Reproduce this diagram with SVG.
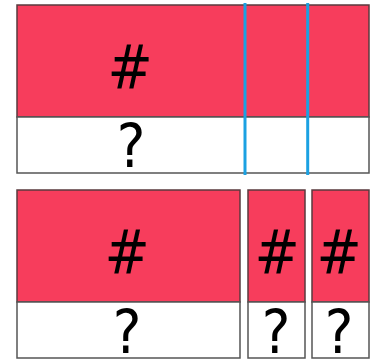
<svg xmlns="http://www.w3.org/2000/svg" width="377" height="360" viewBox="0 0 377 360">
<style>
.red{fill:#F73D5C;stroke:#5A3A3E;stroke-width:1.5}
.wht{fill:#FFFFFF;stroke:#555555;stroke-width:1.5}
.t{font-family:"DejaVu Sans Condensed","DejaVu Sans",sans-serif;font-stretch:condensed;font-size:60px;text-anchor:middle;fill:#000}
.blue{stroke:#1BA1E2;stroke-width:3;fill:none}
</style>
<g id="top">
<rect class="red" x="17" y="5" width="352" height="112"/>
<rect class="wht" x="17" y="117" width="352" height="56"/>
<text class="t" x="130" y="88">#</text>
<text class="t" x="131" y="167">?</text>
</g>
<g id="connectors">
<line class="blue" x1="245" y1="3" x2="245" y2="175"/>
<line class="blue" x1="307.7" y1="3" x2="307.7" y2="175"/>
</g>
<g id="b1">
<rect class="red" x="17" y="190" width="223" height="112"/>
<rect class="wht" x="17" y="302" width="223" height="56"/>
<text class="t" x="127" y="273">#</text>
<text class="t" x="127" y="353">?</text>
</g>
<g id="b2">
<rect class="red" x="248" y="190" width="57" height="112"/>
<rect class="wht" x="248" y="302" width="57" height="56"/>
<text class="t" x="277" y="273">#</text>
<text class="t" x="276" y="353">?</text>
</g>
<g id="b3">
<rect class="red" x="312" y="190" width="57" height="112"/>
<rect class="wht" x="312" y="302" width="57" height="56"/>
<text class="t" x="339" y="273">#</text>
<text class="t" x="339" y="353">?</text>
</g>
</svg>
